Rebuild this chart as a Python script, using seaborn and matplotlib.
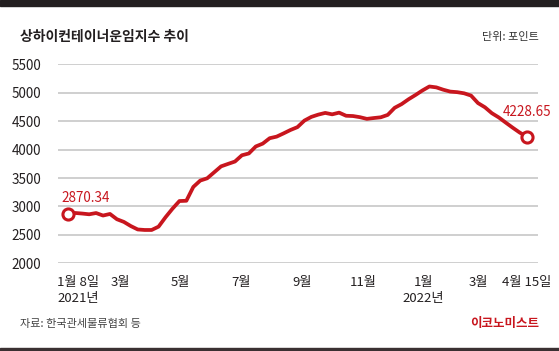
import pandas as pd
import seaborn as sns
import matplotlib.pyplot as plt
import matplotlib.transforms as mtransforms

# 상하이컨테이너운임지수(SCFI) 주간 값, 2021-01-08 ~ 2022-04-15
start_date = "2021-01-08"
scfi = [
    2870.34, 2885, 2875, 2862, 2884, 2840, 2868, 2775, 2728, 2655,
    2595, 2586, 2586, 2645, 2810, 2960, 3095, 3100, 3343, 3455,
    3495, 3600, 3705, 3748, 3790, 3900, 3932, 4055, 4105, 4200,
    4228, 4285, 4345, 4395, 4510, 4575, 4615, 4645, 4620, 4650,
    4595, 4590, 4570, 4540, 4555, 4568, 4610, 4735, 4800, 4885,
    4960, 5040, 5110, 5094, 5053, 5020, 5010, 4990, 4950, 4818,
    4744, 4640, 4565, 4474, 4385, 4300, 4228.65,
]
tick_dates = ["2021-01-08", "2021-03-01", "2021-05-01", "2021-07-01", "2021-09-01",
              "2021-11-01", "2022-01-01", "2022-03-01", "2022-04-15"]
tick_labels = ["1월 8일\n2021년", "3월", "5월", "7월", "9월", "11월", "1월\n2022년", "3월", "4월 15일"]
y_ticks = [2000, 2500, 3000, 3500, 4000, 4500, 5000, 5500]

df = pd.DataFrame({
    "date": pd.date_range(start_date, periods=len(scfi), freq="7D"),
    "scfi": scfi,
})

sns.set_style("white")
plt.rcParams["font.family"] = ["Noto Sans CJK KR", "DejaVu Sans"]

RED = "#c8161e"
TXT = "#231f20"
W, H = 559, 351

fig = plt.figure(figsize=(W / 100, H / 100), dpi=100)
ax = fig.add_axes([58 / W, (H - 263.3) / H, 480 / W, 199 / H])

sns.lineplot(data=df, x="date", y="scfi", ax=ax, color=RED, linewidth=2.7,
             zorder=3, clip_on=False)

# 시작/끝 점 표시
ends = df.iloc[[0, -1]]
ax.plot(ends["date"], ends["scfi"], linestyle="none", marker="o", markersize=8,
        markerfacecolor="white", markeredgecolor=RED, markeredgewidth=2.2,
        zorder=4, clip_on=False)

d0 = df["date"].iloc[0]
ax.set_xlim(d0 - pd.Timedelta(days=10.4), d0 + pd.Timedelta(days=473.5))
ax.set_ylim(2000, 5500)

ax.set_yticks(y_ticks)
ax.set_yticklabels([str(v) for v in y_ticks])
ax.yaxis.grid(True, color="#cfcfcf", linewidth=1.4)
ax.xaxis.grid(False)
for s in ax.spines.values():
    s.set_visible(False)
ax.tick_params(axis="y", length=0, pad=6, labelsize=9.7, labelcolor=TXT)
for lbl in ax.get_yticklabels():
    lbl.set_horizontalalignment("left")
    lbl.set_transform(lbl.get_transform() + mtransforms.ScaledTranslation(-38 / 100, 0, fig.dpi_scale_trans))

ax.set_xticks(pd.to_datetime(tick_dates))
ax.set_xticklabels(tick_labels, linespacing=1.3)
ax.tick_params(axis="x", length=0, pad=9, labelsize=9.5, labelcolor=TXT)
xl = ax.get_xticklabels()
xl[0].set_horizontalalignment("left")
xl[0].set_transform(xl[0].get_transform() + mtransforms.ScaledTranslation(-11 / 100, 0, fig.dpi_scale_trans))
xl[7].set_transform(xl[7].get_transform() + mtransforms.ScaledTranslation(-4 / 100, 0, fig.dpi_scale_trans))
ax.set_xlabel("")
ax.set_ylabel("")

# 값 주석
ax.annotate(f"{scfi[0]:.2f}", xy=(d0, scfi[0]), xytext=(-7, 16), textcoords="offset pixels",
            ha="left", va="center", color=RED, fontsize=9.7)
ax.annotate(f"{scfi[-1]:.2f}", xy=(df["date"].iloc[-1], scfi[-1]), xytext=(25, 25),
            textcoords="offset pixels", ha="right", va="center", color=RED, fontsize=9.7)

# 제목, 단위, 출처
fig.text(20 / W, 1 - 37 / H, "상하이컨테이너운임지수 추이", fontsize=10, fontweight="bold",
         color=TXT, ha="left", va="center")
fig.text(539 / W, 1 - 37 / H, "단위: 포인트", fontsize=8, color="#333333", ha="right", va="center")
fig.text(20 / W, 1 - 324 / H, "자료: 한국관세물류협회 등", fontsize=8, color="#444444", ha="left", va="center")
fig.text(539 / W, 1 - 324 / H, "이코노미스트", fontsize=9, fontweight="bold", color=RED,
         ha="right", va="center")

# 위/아래 어두운 띠
fig.patches.append(plt.Rectangle((0, 1 - 6 / H), 1, 6 / H, transform=fig.transFigure,
                                 color="#231f20", zorder=0))
fig.patches.append(plt.Rectangle((0, 0), 1, 3 / H, transform=fig.transFigure,
                                 color="#3a3032", zorder=0))

fig.savefig("out.png", dpi=100)
